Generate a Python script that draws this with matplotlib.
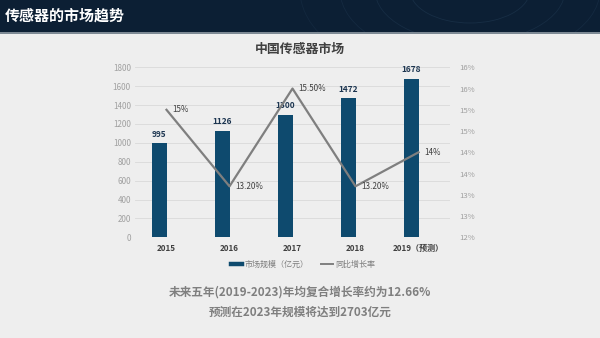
import matplotlib
matplotlib.use('Agg')
import matplotlib.pyplot as plt
from matplotlib.patches import Rectangle, Arc
from matplotlib.lines import Line2D
import numpy as np

plt.rcParams['font.family'] = ['Noto Sans CJK SC', 'DejaVu Sans']

# ---- data ----
categories = ['2015', '2016', '2017', '2018', '2019（预测）']
market_size = [995, 1126, 1300, 1472, 1678]
growth_rate = [15.0, 13.2, 15.5, 13.2, 14.0]
growth_labels = ['15%', '13.20%', '15.50%', '13.20%', '14%']
left_ticks = [0, 200, 400, 600, 800, 1000, 1200, 1400, 1600, 1800]
right_ticks = [12, 12.5, 13, 13.5, 14, 14.5, 15, 15.5, 16]
right_tick_labels = ['12%', '13%', '13%', '14%', '14%', '15%', '15%', '16%', '16%']
legend_labels = ['市场规模（亿元）', '同比增长率']
page_title = '传感器的市场趋势'
chart_title = '中国传感器市场'
note_lines = ['未来五年(2019-2023)年均复合增长率约为12.66%',
              '预测在2023年规模将达到2703亿元']

W, H = 600, 338
fig = plt.figure(figsize=(W / 100, H / 100), dpi=100, facecolor='#eeeeee')

# ---- header band ----
header = Rectangle((0, 1 - 32 / H), 1, 32 / H, transform=fig.transFigure,
                   facecolor='#0c1f34', edgecolor='none', zorder=0)
fig.add_artist(header)
fig.add_artist(Rectangle((0, 1 - 34 / H), 1, 2 / H, transform=fig.transFigure,
                         facecolor='#7d8994', edgecolor='none', zorder=0))
# faint decorative arcs
for r, a in [(60, 0.25), (95, 0.22), (130, 0.18), (170, 0.15)]:
    arc = Arc((470 / 100, (H + 10) / 100), 2 * r / 100, 1.1 * r / 100,
              transform=fig.dpi_scale_trans, color='#3a5a78', lw=0.6, alpha=a,
              zorder=0.5)
    fig.add_artist(arc)
    arc.set_clip_path(header)
fig.text(5 / W, 1 - 16 / H, page_title, color='white', fontsize=10.8,
         fontweight='bold', ha='left', va='center')

# ---- chart title ----
fig.text(0.5, 1 - 49 / H, chart_title, color='#404040', fontsize=9.3,
         fontweight='bold', ha='center', va='center')

# ---- axes ----
ax = fig.add_axes([135 / W, 1 - 237.3 / H, 315 / W, 170 / H])
ax.set_facecolor('none')
x = np.arange(len(categories))
ax.set_xlim(-0.5, len(categories) - 0.5)
ax.set_ylim(0, 1800)
ax.set_yticks(left_ticks)
ax.grid(axis='y', color='#d9d9d9', lw=0.6, zorder=0)
ax.set_axisbelow(True)
for s in ax.spines.values():
    s.set_visible(False)
bar_color = '#0e4a6e'
ax.bar(x, market_size, width=-0.23, align='edge', color=bar_color, zorder=2)
for xi, v in zip(x, market_size):
    ax.annotate(str(v), (xi - 0.115, v), xytext=(0, 6.5), textcoords='offset points',
                ha='center', va='center', fontsize=6.0, fontweight='bold',
                color='#1c3550')
ax.set_xticks(x)
ax.set_xticklabels(categories, fontsize=5.8, fontweight='bold', color='#404040')
ax.tick_params(axis='x', length=0, pad=5)
ax.tick_params(axis='y', length=0, labelsize=5.8, labelcolor='#a0a0a0', pad=3)

ax2 = ax.twinx()
ax2.set_ylim(12, 16)
ax2.set_yticks(right_ticks)
ax2.set_yticklabels(right_tick_labels)
ax2.tick_params(axis='y', length=0, labelsize=5.6, labelcolor='#a0a0a0', pad=7)
for s in ax2.spines.values():
    s.set_visible(False)
line_color = '#7f7f7f'
ax2.plot(x, growth_rate, color=line_color, lw=1.6, zorder=3)
for xi, v, lab in zip(x, growth_rate, growth_labels):
    ax2.annotate(lab, (xi, v), xytext=(4.5, 0), textcoords='offset points',
                 ha='left', va='center', fontsize=5.8, color='#404040')

# ---- legend ----
handles = [Line2D([0], [0], color=bar_color, lw=3.2),
           Line2D([0], [0], color=line_color, lw=1.4)]
fig.legend(handles, legend_labels, loc='center', bbox_to_anchor=(0.505, 1 - 264 / H),
           ncol=2, frameon=False, fontsize=5.8, labelcolor='#7f7f7f',
           handlelength=1.4, handletextpad=0.3, columnspacing=1.6)

# ---- notes ----
fig.text(0.5, 1 - 291.7 / H, note_lines[0], color='#7f7f7f', fontsize=8.4,
         fontweight='bold', ha='center', va='center')
fig.text(0.5, 1 - 312.7 / H, note_lines[1], color='#7f7f7f', fontsize=8.4,
         fontweight='bold', ha='center', va='center')

fig.savefig('out.png', dpi=100, facecolor=fig.get_facecolor())
